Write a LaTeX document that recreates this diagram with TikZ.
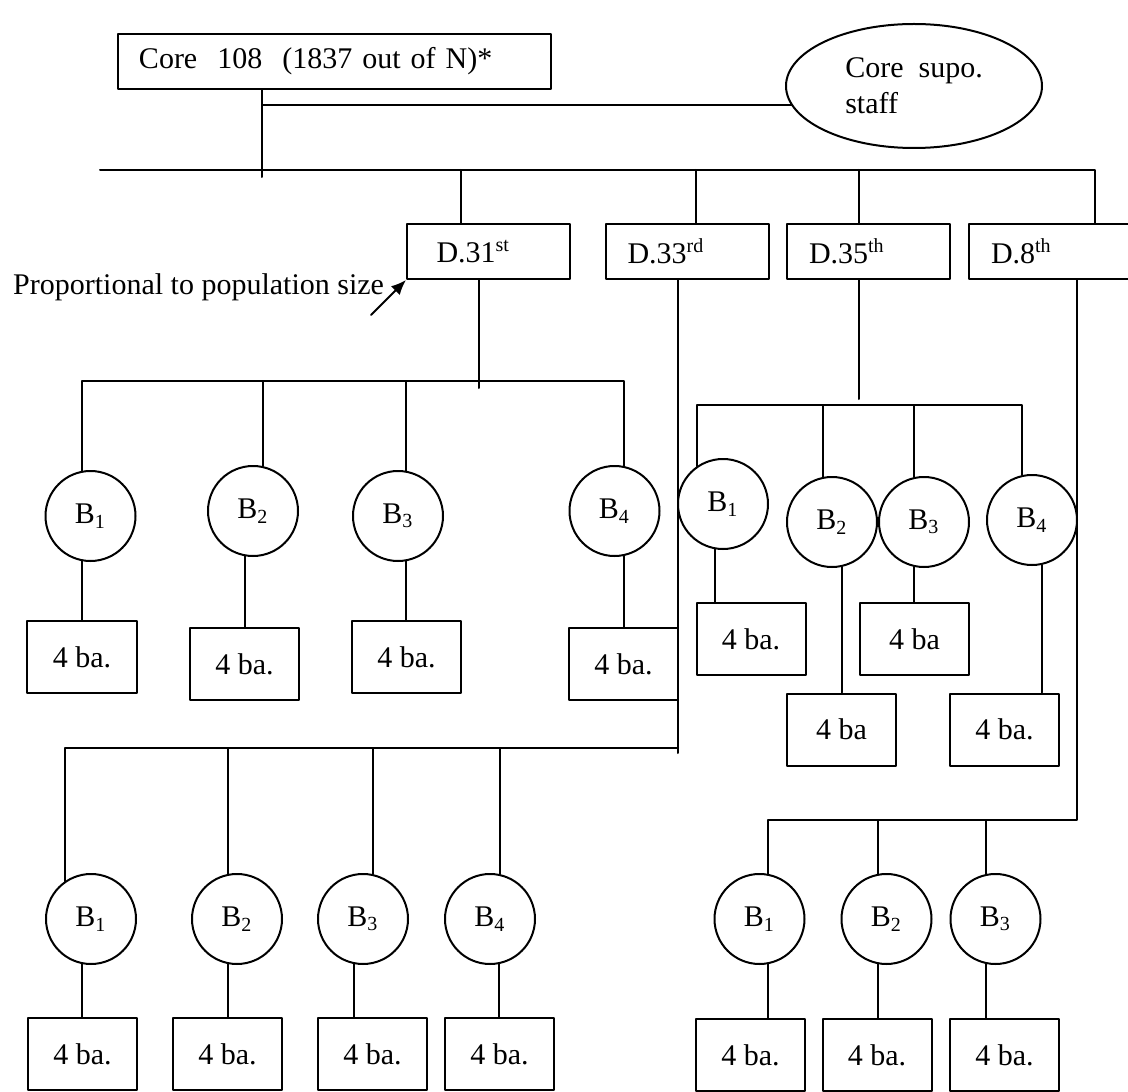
\documentclass[tikz,border=0pt,12pt]{standalone}
\usepackage{fontspec}
\setmainfont{Liberation Serif}
\usetikzlibrary{shapes.geometric,arrows.meta}
\begin{document}
\begin{tikzpicture}[x=0.4pt,y=-0.4pt,line cap=round,line join=round,line width=0.8pt,
	corebox/.style={draw,inner xsep=8.4pt,inner ysep=0pt,text width=156.4pt,align=left,minimum height=22pt},
	dbox/.style={draw,inner xsep=8.8pt,inner ysep=0pt,text width=47.6pt,align=left,minimum height=22pt},
	bunit/.style={draw,circle,inner sep=0pt,minimum size=36pt},
	babox/.style={draw,inner sep=0pt,minimum width=43.6pt,minimum height=28.8pt}]
		\useasboundingbox (0,0) rectangle (1128,1092);
		% core and support staff
		\node[corebox] (core) at (334.5,61.5) {Core\ \ 108\ \ (1837 out of N)*};
		\node[draw,ellipse,inner sep=0pt,minimum width=102.4pt,minimum height=49.6pt,align=left] (staff) at (914,86) {Core\ \ supo.\\staff};
		\coordinate (c0) at (262,177);
		\draw (c0 |- core.south) -- (c0);
		\draw (staff.189) -- (staff.189 -| c0);
		% districts
		\node[dbox] (d31) at (488.5,251.5) {\hspace*{3pt}D.31\textsuperscript{st}};
		\node[dbox] (d33) at (687,251.5) {D.33\textsuperscript{rd}};
		\node[dbox] (d35) at (868.5,251.5) {D.35\textsuperscript{th}};
		\node[dbox,text width=48.4pt] (d8) at (1051.5,251.5) {D.8\textsuperscript{th}};
		\coordinate (m0) at (100,170);
		\coordinate (m8) at (1095,170);
		\coordinate (j31) at (461,170);
		\coordinate (j33) at (696,170);
		\coordinate (j35) at (859,170);
		\draw (m0) -- (m8) -- (m8 |- d8.north);
		\foreach \d in {31,33,35}
			\draw (j\d) -- (j\d |- d\d.north);
		\node[anchor=base east,inner sep=0pt] (prop) at (385,295) {Proportional to population size};
		\coordinate (a0) at (371,315);
		\draw[-{Latex[length=6pt,width=5pt]}] (a0) -- (d31.south west);
		% D.31
		\node[bunit] (B31-1) at (90.5,516) {B\textsubscript{1}};
		\node[bunit] (B31-2) at (253,511) {B\textsubscript{2}};
		\node[bunit] (B31-3) at (398,516) {B\textsubscript{3}};
		\node[bunit] (B31-4) at (614.5,511) {B\textsubscript{4}};
		\node[babox] (ba31-1) at (82,657) {4 ba.};
		\node[babox] (ba31-2) at (244.5,664) {4 ba.};
		\node[babox] (ba31-3) at (406.5,657) {4 ba.};
		\node[babox] (ba31-4) at (623.5,664) {4 ba.};
		\coordinate (k31) at (479,381);
		\coordinate (t31) at (479,388);
		\draw (t31 |- d31.south) -- (t31);
		\draw (B31-1.101) |- (k31) -| (B31-4.78);
		\draw (B31-2.78) -- (B31-2.78 |- k31);
		\draw (B31-3.80) -- (B31-3.80 |- k31);
		\foreach \i/\a in {1/259,2/260,3/280,4/282}
			\draw (B31-\i.\a) -- (B31-\i.\a |- ba31-\i.north);
		% D.35
		\node[bunit] (B35-1) at (723,504) {B\textsubscript{1}};
		\node[bunit] (B35-2) at (832,522) {B\textsubscript{2}};
		\node[bunit] (B35-3) at (924,522) {B\textsubscript{3}};
		\node[bunit] (B35-4) at (1032,520) {B\textsubscript{4}};
		\node[babox] (ba35-1) at (751,639) {4 ba.};
		\node[babox] (ba35-2) at (841.5,729.5) {4 ba};
		\node[babox] (ba35-3) at (914.5,639) {4 ba};
		\node[babox] (ba35-4) at (1004.5,729.5) {4 ba.};
		\coordinate (k35) at (859,405);
		\coordinate (t35) at (859,399);
		\draw (t35 |- d35.south) -- (t35);
		\draw (B35-1.125) |- (k35) -| (B35-4.103);
		\draw (B35-2.101) -- (B35-2.101 |- k35);
		\draw (B35-3.103) -- (B35-3.103 |- k35);
		\foreach \i/\a in {1/260,2/283,3/257,4/282}
			\draw (B35-\i.\a) -- (B35-\i.\a |- ba35-\i.north);
		% D.33
		\node[bunit] (B33-1) at (91,919) {B\textsubscript{1}};
		\node[bunit] (B33-2) at (237,919) {B\textsubscript{2}};
		\node[bunit] (B33-3) at (363,919) {B\textsubscript{3}};
		\node[bunit] (B33-4) at (490,919) {B\textsubscript{4}};
		\node[babox] (ba33-1) at (82.5,1054) {4 ba.};
		\node[babox] (ba33-2) at (227.5,1054) {4 ba.};
		\node[babox] (ba33-3) at (372.5,1054) {4 ba.};
		\node[babox] (ba33-4) at (499.5,1054) {4 ba.};
		\coordinate (k33) at (678,748);
		\coordinate (t33) at (678,753);
		\draw (t33 |- d33.south) -- (t33);
		\draw (B33-1.125) |- (k33);
		\foreach \i/\a in {2/101,3/78,4/78}
			\draw (B33-\i.\a) -- (B33-\i.\a |- k33);
		\foreach \i/\a in {1/259,2/259,3/259,4/281}
			\draw (B33-\i.\a) -- (B33-\i.\a |- ba33-\i.north);
		% D.8
		\node[bunit] (B8-1) at (759.5,919) {B\textsubscript{1}};
		\node[bunit] (B8-2) at (886.5,919) {B\textsubscript{2}};
		\node[bunit] (B8-3) at (995.5,919) {B\textsubscript{3}};
		\node[babox] (ba8-1) at (750.5,1055) {4 ba.};
		\node[babox] (ba8-2) at (877,1055) {4 ba.};
		\node[babox] (ba8-3) at (1004.5,1055) {4 ba.};
		\coordinate (k8) at (1077,820);
		\draw (k8 |- d8.south) -- (k8) -| (B8-1.79);
		\draw (B8-2.101) -- (B8-2.101 |- k8);
		\draw (B8-3.102) -- (B8-3.102 |- k8);
		\foreach \i/\a in {1/281,2/259,3/258}
			\draw (B8-\i.\a) -- (B8-\i.\a |- ba8-\i.north);
\end{tikzpicture}
\end{document}
